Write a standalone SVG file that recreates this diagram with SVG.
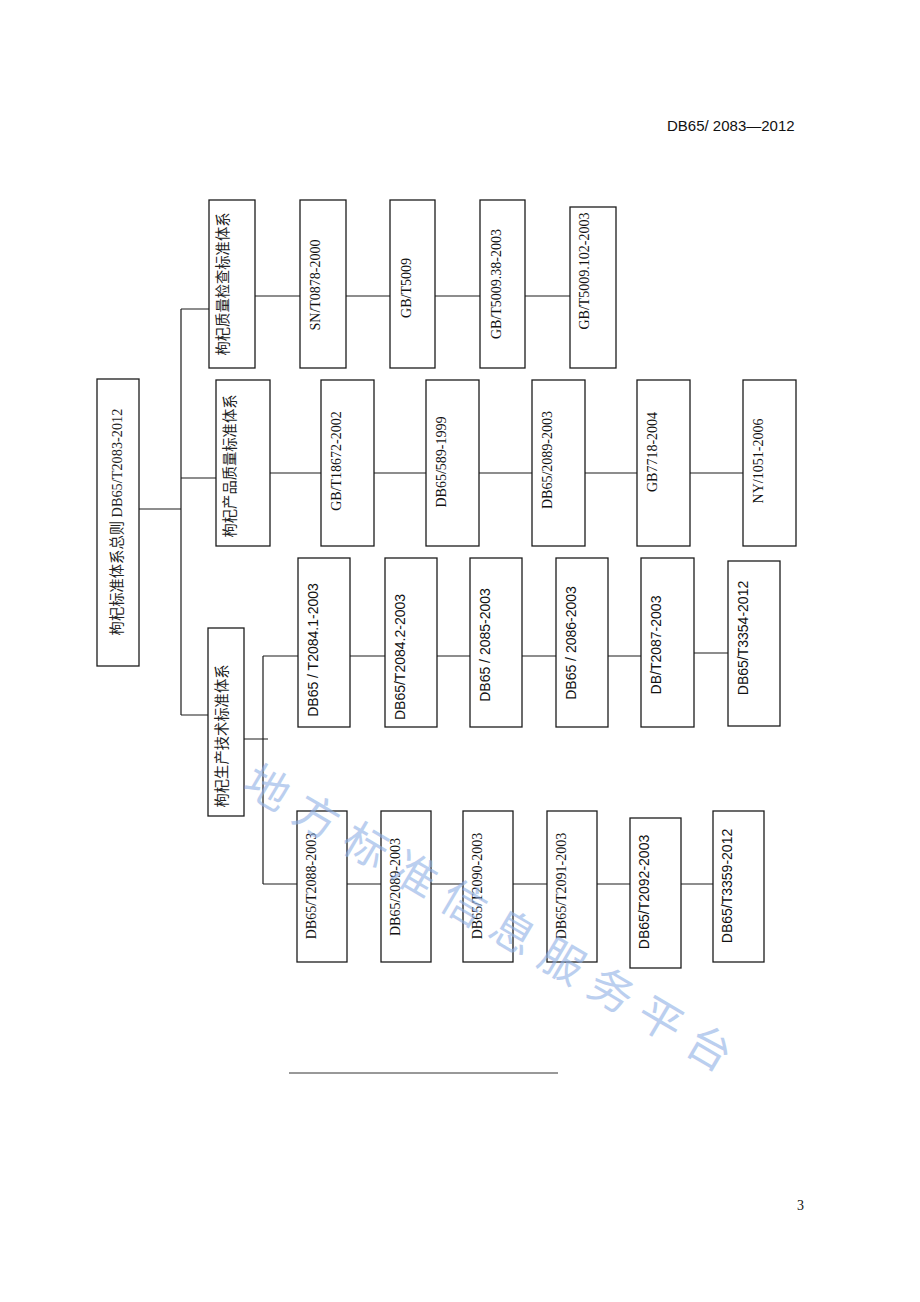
<svg xmlns="http://www.w3.org/2000/svg" width="920" height="1302" viewBox="0 0 920 1302">
<style>
.box{fill:#fff;stroke:#1c1c1c;stroke-width:1.3}
.ln{fill:none;stroke:#1c1c1c;stroke-width:1.2}
.sf{font-family:"Liberation Serif","Noto Sans CJK SC",serif;font-size:14px;fill:#111;text-anchor:middle}
.ss{font-family:"Liberation Sans","Noto Sans CJK SC",sans-serif;font-size:14px;fill:#111;text-anchor:middle}
.cn{font-family:"Liberation Serif","Noto Sans CJK SC",serif;font-size:14.3px;fill:#222;text-anchor:middle}
.wm{font-family:"Noto Sans CJK SC",sans-serif;font-size:44px;fill:#8fb0e6;opacity:0.6;letter-spacing:13px}
</style>
<rect width="920" height="1302" fill="#fff"/>
<text x="667" y="131" style="font-family:'Liberation Sans','Noto Sans CJK SC',sans-serif;font-size:15px;fill:#111">DB65/ 2083—2012</text>
<text x="797" y="1210" style="font-family:'Liberation Serif',serif;font-size:14px;fill:#111">3</text>

<g id="connectors">
<path class="ln" d="M181,309 V715 M139,509 H181 M181,309 H209 M181,478 H216 M181,715 H208"/>
<path class="ln" d="M255,296 H300 M346,296 H390 M435,296 H480 M525,296 H570"/>
<path class="ln" d="M270,473 H321 M374,473 H426 M479,473 H532 M585,473 H637 M690,473 H743"/>
<path class="ln" d="M263,656 V884 M263,656 H298 M350,656 H385 M437,656 H470 M522,656 H556 M608,656 H641 M694,653 H728 M244,739 H268"/>
<path class="ln" d="M263,884 H297 M347,884 H381 M431,884 H463 M513,884 H547 M597,884 H630 M681,884 H713"/>
<path d="M289,1073 H558" fill="none" stroke="#333" stroke-width="1"/>
</g>

<g id="root"><rect class="box" x="97" y="379" width="42" height="287"/><text class="cn" transform="translate(122,522) rotate(-90)">枸杞标准体系总则 DB65/T2083-2012</text></g>

<g id="qi"><rect class="box" x="209" y="200" width="46" height="168"/><text class="cn" transform="translate(228,284) rotate(-90)">枸杞质量检查标准体系</text></g>
<g id="r1-1"><rect class="box" x="300" y="200" width="46" height="168"/><text class="sf" transform="translate(320,285) rotate(-90)">SN/T0878-2000</text></g>
<g id="r1-2"><rect class="box" x="390" y="200" width="45" height="168"/><text class="sf" transform="translate(411,288) rotate(-90)">GB/T5009</text></g>
<g id="r1-3"><rect class="box" x="480" y="200" width="45" height="168"/><text class="sf" transform="translate(501,284) rotate(-90)">GB/T5009.38-2003</text></g>
<g id="r1-4"><rect class="box" x="570" y="207" width="46" height="161"/><text class="sf" transform="translate(589,271) rotate(-90)">GB/T5009.102-2003</text></g>

<g id="product"><rect class="box" x="216" y="380" width="54" height="166"/><text class="cn" transform="translate(235,466) rotate(-90)">枸杞产品质量标准体系</text></g>
<g id="r2-1"><rect class="box" x="321" y="380" width="53" height="166"/><text class="sf" transform="translate(341,461) rotate(-90)">GB/T18672-2002</text></g>
<g id="r2-2"><rect class="box" x="426" y="380" width="53" height="166"/><text class="sf" transform="translate(446,462) rotate(-90)">DB65/589-1999</text></g>
<g id="r2-3"><rect class="box" x="532" y="380" width="53" height="166"/><text class="sf" transform="translate(552,460) rotate(-90)">DB65/2089-2003</text></g>
<g id="r2-4"><rect class="box" x="637" y="380" width="53" height="166"/><text class="sf" transform="translate(657,452) rotate(-90)">GB7718-2004</text></g>
<g id="r2-5"><rect class="box" x="743" y="380" width="53" height="166"/><text class="sf" transform="translate(763,461) rotate(-90)">NY/1051-2006</text></g>

<g id="production"><rect class="box" x="208" y="628" width="36" height="188"/><text class="cn" transform="translate(227,736) rotate(-90)">枸杞生产技术标准体系</text></g>
<g id="r3a-1"><rect class="box" x="298" y="558" width="52" height="169"/><text class="ss" transform="translate(318,650) rotate(-90)">DB65 / T2084.1-2003</text></g>
<g id="r3a-2"><rect class="box" x="385" y="558" width="52" height="169"/><text class="ss" transform="translate(405,657) rotate(-90)">DB65/T2084.2-2003</text></g>
<g id="r3a-3"><rect class="box" x="470" y="558" width="52" height="169"/><text class="ss" transform="translate(490,645) rotate(-90)">DB65 / 2085-2003</text></g>
<g id="r3a-4"><rect class="box" x="556" y="558" width="52" height="169"/><text class="ss" transform="translate(576,643) rotate(-90)">DB65 / 2086-2003</text></g>
<g id="r3a-5"><rect class="box" x="641" y="558" width="53" height="169"/><text class="ss" transform="translate(661,645) rotate(-90)">DB/T2087-2003</text></g>
<g id="r3a-6"><rect class="box" x="728" y="561" width="52" height="165"/><text class="ss" transform="translate(748,638) rotate(-90)">DB65/T3354-2012</text></g>

<g id="r3b-1"><rect class="box" x="297" y="811" width="50" height="151"/><text class="sf" transform="translate(316,886) rotate(-90)">DB65/T2088-2003</text></g>
<g id="r3b-2"><rect class="box" x="381" y="811" width="50" height="151"/><text class="sf" transform="translate(400,887) rotate(-90)">DB65/2089-2003</text></g>
<g id="r3b-3"><rect class="box" x="463" y="811" width="50" height="151"/><text class="sf" transform="translate(482,886) rotate(-90)">DB65/T2090-2003</text></g>
<g id="r3b-4"><rect class="box" x="547" y="811" width="50" height="151"/><text class="sf" transform="translate(566,886) rotate(-90)">DB65/T2091-2003</text></g>
<g id="r3b-5"><rect class="box" x="630" y="818" width="51" height="150"/><text class="ss" transform="translate(649,892) rotate(-90)">DB65/T2092-2003</text></g>
<g id="r3b-6"><rect class="box" x="713" y="811" width="51" height="151"/><text class="ss" transform="translate(732,886) rotate(-90)">DB65/T3359-2012</text></g>

<text class="wm" transform="translate(240.6,790.2) rotate(30.5)">地方标准信息服务平台</text>
</svg>
